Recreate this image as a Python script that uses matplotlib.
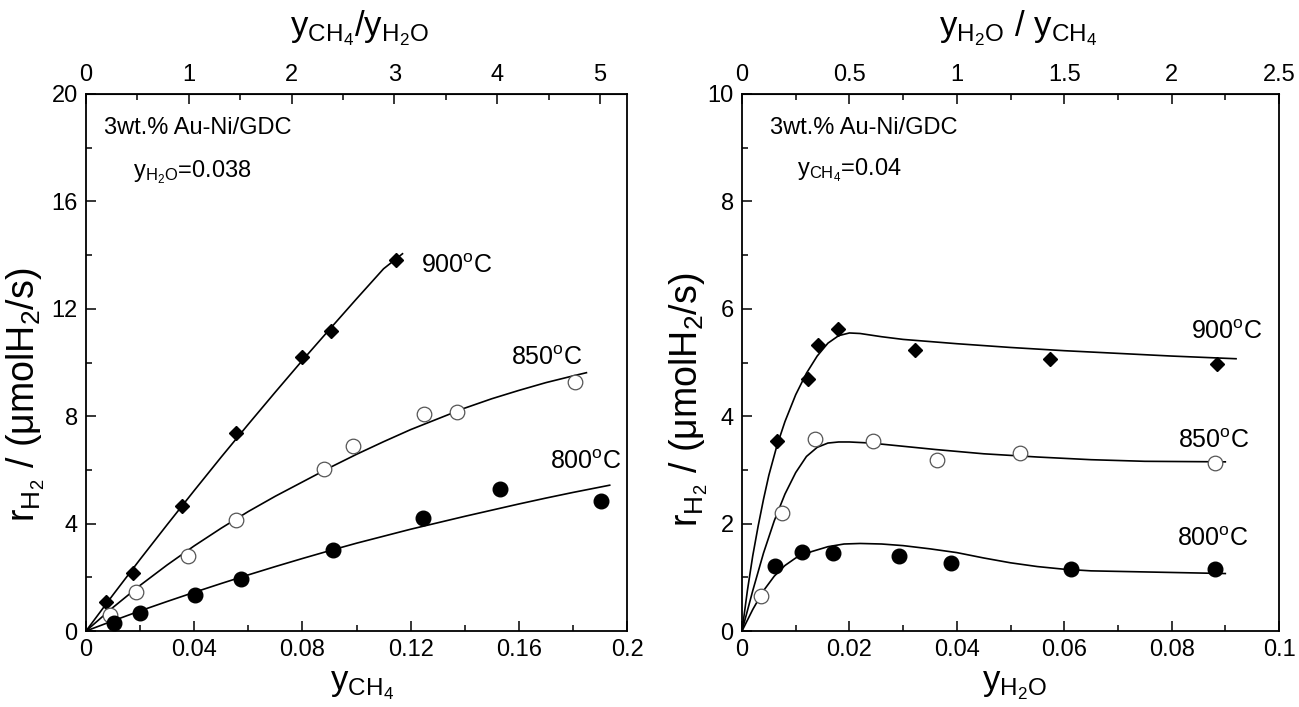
import matplotlib
matplotlib.use("Agg")
import matplotlib.pyplot as plt
from matplotlib.ticker import MultipleLocator, FixedLocator

plt.rcParams["font.family"] = ["Liberation Sans", "DejaVu Sans"]
plt.rcParams["mathtext.fontset"] = "custom"
plt.rcParams["mathtext.rm"] = "Liberation Sans"
plt.rcParams["mathtext.it"] = "Liberation Sans"
plt.rcParams["mathtext.bf"] = "Liberation Sans:bold"

# ---- Left panel: rate vs CH4 mole fraction (y_H2O = 0.038) ----
ch4_900 = [0.0074, 0.0173, 0.0355, 0.0553, 0.0799, 0.0905, 0.1146]
r_900a = [1.08, 2.17, 4.66, 7.38, 10.21, 11.19, 13.81]
ch4_850 = [0.0089, 0.0184, 0.0376, 0.0553, 0.0879, 0.0986, 0.1248, 0.1372, 0.1806]
r_850a = [0.58, 1.45, 2.78, 4.15, 6.04, 6.88, 8.07, 8.17, 9.28]
ch4_800 = [0.0104, 0.0199, 0.0404, 0.0572, 0.0912, 0.1245, 0.1532, 0.1903]
r_800a = [0.30, 0.67, 1.35, 1.95, 3.03, 4.21, 5.28, 4.84]

# fitted model curves
fit_ch4_900 = [0, 0.01, 0.02, 0.03, 0.04, 0.05, 0.06, 0.07, 0.08, 0.09, 0.10, 0.11, 0.117]
fit_r_900a = [0, 1.35, 2.67, 3.96, 5.23, 6.48, 7.70, 8.90, 10.08, 11.23, 12.37, 13.49, 14.05]
fit_ch4_850 = [0, 0.01, 0.02, 0.03, 0.04, 0.05, 0.06, 0.07, 0.08, 0.09, 0.10,
               0.11, 0.12, 0.13, 0.14, 0.15, 0.16, 0.17, 0.18, 0.185]
fit_r_850a = [0, 0.88, 1.70, 2.46, 3.17, 3.83, 4.45, 5.02, 5.55, 6.08, 6.58,
              7.05, 7.50, 7.90, 8.30, 8.65, 8.96, 9.25, 9.50, 9.62]
fit_ch4_800 = [0, 0.01, 0.02, 0.03, 0.04, 0.05, 0.06, 0.07, 0.08, 0.09, 0.10,
               0.11, 0.12, 0.13, 0.14, 0.15, 0.16, 0.17, 0.18, 0.1936]
fit_r_800a = [0, 0.38, 0.75, 1.10, 1.44, 1.77, 2.09, 2.40, 2.70, 2.99, 3.27,
              3.53, 3.79, 4.03, 4.27, 4.50, 4.73, 4.95, 5.16, 5.43]

# ---- Right panel: rate vs H2O mole fraction (y_CH4 = 0.04) ----
h2o_900 = [0.0065, 0.0122, 0.0142, 0.0178, 0.0322, 0.0574, 0.0885]
r_900b = [3.54, 4.69, 5.32, 5.62, 5.23, 5.06, 4.97]
h2o_850 = [0.0035, 0.0074, 0.0136, 0.0244, 0.0363, 0.0517, 0.0880]
r_850b = [0.65, 2.20, 3.58, 3.54, 3.18, 3.31, 3.12]
h2o_800 = [0.0062, 0.0111, 0.0169, 0.0292, 0.0389, 0.0612, 0.0881]
r_800b = [1.21, 1.48, 1.46, 1.40, 1.27, 1.15, 1.15]

fit_h2o_900 = [0, 0.001, 0.002, 0.003, 0.004, 0.005, 0.0065, 0.008, 0.010, 0.012,
               0.014, 0.016, 0.018, 0.020, 0.022, 0.026, 0.030, 0.040, 0.050,
               0.060, 0.070, 0.080, 0.092]
fit_r_900b = [0, 0.75, 1.40, 1.95, 2.45, 2.90, 3.45, 3.90, 4.40, 4.80,
              5.12, 5.36, 5.50, 5.55, 5.54, 5.48, 5.43, 5.35, 5.28,
              5.22, 5.17, 5.12, 5.07]
fit_h2o_850 = [0, 0.002, 0.004, 0.006, 0.008, 0.010, 0.012, 0.014, 0.016, 0.018,
               0.020, 0.024, 0.030, 0.036, 0.045, 0.055, 0.065, 0.075, 0.090]
fit_r_850b = [0, 0.75, 1.45, 2.05, 2.55, 2.95, 3.25, 3.42, 3.50, 3.52,
              3.52, 3.50, 3.44, 3.38, 3.30, 3.24, 3.19, 3.16, 3.15]
fit_h2o_800 = [0, 0.001, 0.002, 0.004, 0.006, 0.008, 0.010, 0.013, 0.016, 0.019,
               0.022, 0.026, 0.030, 0.035, 0.040, 0.045, 0.050, 0.055, 0.060,
               0.065, 0.070, 0.080, 0.090]
fit_r_800b = [0, 0.20, 0.40, 0.75, 1.02, 1.22, 1.36, 1.48, 1.57, 1.62,
              1.63, 1.62, 1.59, 1.53, 1.46, 1.36, 1.27, 1.20, 1.15,
              1.12, 1.11, 1.09, 1.07]

# top-axis ratio ticks
ratio_ticks_left = [0, 1, 2, 3, 4, 5]
ratio_minor_left = [0.5, 1.5, 2.5, 3.5, 4.5]
ratio_ticks_right = [0, 0.5, 1, 1.5, 2, 2.5]
ratio_minor_right = [0.25, 0.75, 1.25, 1.75, 2.25]

y_h2o_fixed = 0.038
y_ch4_fixed = 0.04

TICK_FS = 17
LABEL_FS = 25
YLABEL_FS = 27
TEMP_FS = 18
NOTE_FS = 17

W, H = 1299, 707
fig = plt.figure(figsize=(W / 100, H / 100), dpi=100)
ax1 = fig.add_axes([86 / W, 1 - 631 / H, 541 / W, 537 / H])
ax2 = fig.add_axes([742 / W, 1 - 631 / H, 537 / W, 537 / H])

line_kw = dict(color="black", lw=1.2, zorder=2)
dia_kw = dict(marker="D", ms=7, mfc="black", mec="black", ls="none", zorder=3)
open_kw = dict(marker="o", ms=10.5, mfc="white", mec="#555555", mew=0.9, ls="none", zorder=3)
fill_kw = dict(marker="o", ms=10.5, mfc="black", mec="black", ls="none", zorder=3)

# left panel
ax1.plot(fit_ch4_900, fit_r_900a, **line_kw)
ax1.plot(fit_ch4_850, fit_r_850a, **line_kw)
ax1.plot(fit_ch4_800, fit_r_800a, **line_kw)
ax1.plot(ch4_900, r_900a, **dia_kw)
ax1.plot(ch4_850, r_850a, **open_kw)
ax1.plot(ch4_800, r_800a, **fill_kw)

# right panel
ax2.plot(fit_h2o_900, fit_r_900b, **line_kw)
ax2.plot(fit_h2o_850, fit_r_850b, **line_kw)
ax2.plot(fit_h2o_800, fit_r_800b, **line_kw)
ax2.plot(h2o_900, r_900b, **dia_kw)
ax2.plot(h2o_850, r_850b, **open_kw)
ax2.plot(h2o_800, r_800b, **fill_kw)


def style_axis(ax, xmax, xmaj, xmin, ymax, ymaj, ymin):
    ax.set_xlim(0, xmax)
    ax.set_ylim(0, ymax)
    ax.xaxis.set_major_locator(MultipleLocator(xmaj))
    ax.xaxis.set_minor_locator(MultipleLocator(xmin))
    ax.yaxis.set_major_locator(MultipleLocator(ymaj))
    ax.yaxis.set_minor_locator(MultipleLocator(ymin))
    ax.tick_params(which="both", direction="in", top=False, right=False,
                   labelsize=TICK_FS, width=1.1)
    ax.tick_params(which="major", length=7, pad=6)
    ax.tick_params(which="minor", length=4.5)
    ax.xaxis.set_major_formatter(plt.FuncFormatter(lambda v, p: f"{v:g}"))
    for s in ax.spines.values():
        s.set_linewidth(1.3)


style_axis(ax1, 0.2, 0.04, 0.02, 20, 4, 2)
style_axis(ax2, 0.1, 0.02, 0.01, 10, 2, 1)

# top axes: mole-fraction ratios
top1 = ax1.secondary_xaxis("top", functions=(lambda x: x / y_h2o_fixed,
                                             lambda x: x * y_h2o_fixed))
top1.xaxis.set_major_locator(FixedLocator(ratio_ticks_left))
top1.xaxis.set_minor_locator(FixedLocator(ratio_minor_left))
top2 = ax2.secondary_xaxis("top", functions=(lambda x: x / y_ch4_fixed,
                                             lambda x: x * y_ch4_fixed))
top2.xaxis.set_major_locator(FixedLocator(ratio_ticks_right))
top2.xaxis.set_minor_locator(FixedLocator(ratio_minor_right))
for t in (top1, top2):
    t.xaxis.set_major_formatter(plt.FuncFormatter(lambda v, p: f"{v:g}"))
    t.tick_params(which="both", direction="in", labelsize=TICK_FS, width=1.1)
    t.tick_params(which="major", length=7, pad=6)
    t.tick_params(which="minor", length=4.5)

fig.text(360 / W, 1 - 28 / H, r"$\mathregular{y_{CH_4}/y_{H_2O}}$",
         fontsize=LABEL_FS, ha="center", va="center")
fig.text(1018 / W, 1 - 28 / H, r"$\mathregular{y_{H_2O}\ /\ y_{CH_4}}$",
         fontsize=LABEL_FS, ha="center", va="center")

ax1.set_xlabel(r"$\mathregular{y_{CH_4}}$", fontsize=LABEL_FS)
ax2.set_xlabel(r"$\mathregular{y_{H_2O}}$", fontsize=LABEL_FS)
ax1.xaxis.set_label_coords(0.51, -0.07)
ax2.xaxis.set_label_coords(0.508, -0.07)

ylab = "$\\mathregular{r_{H_2}}$ / (\u03bcmolH$\\mathregular{_2}$/s)"
ax1.set_ylabel(ylab, fontsize=YLABEL_FS)
ax2.set_ylabel(ylab, fontsize=YLABEL_FS)
ax1.yaxis.set_label_coords(-0.072, 0.44)
ax2.yaxis.set_label_coords(-0.06, 0.43)

# annotations
ax1.text(0.0067, 18.73, "3wt.% Au-Ni/GDC", fontsize=NOTE_FS, va="center")
ax1.text(0.0174, 17.1, r"$\mathregular{y_{H_2O}}$=0.038", fontsize=NOTE_FS, va="center")
ax2.text(0.0052, 9.36, "3wt.% Au-Ni/GDC", fontsize=NOTE_FS, va="center")
ax2.text(0.0102, 8.58, r"$\mathregular{y_{CH_4}}$=0.04", fontsize=NOTE_FS, va="center")

deg = r"$\mathregular{^o}$C"
ax1.text(0.124, 13.6, "900" + deg, fontsize=TEMP_FS, va="center")
ax1.text(0.157, 10.15, "850" + deg, fontsize=TEMP_FS, va="center")
ax1.text(0.1716, 6.3, "800" + deg, fontsize=TEMP_FS, va="center")
ax2.text(0.0837, 5.56, "900" + deg, fontsize=TEMP_FS, va="center")
ax2.text(0.0812, 3.54, "850" + deg, fontsize=TEMP_FS, va="center")
ax2.text(0.081, 1.71, "800" + deg, fontsize=TEMP_FS, va="center")

fig.savefig("out.png", dpi=100)
